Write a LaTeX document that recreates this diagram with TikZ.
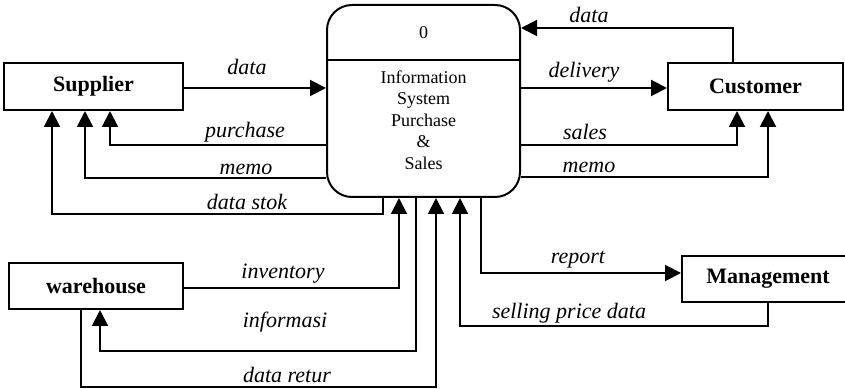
\documentclass[tikz,border=0pt]{standalone}
\usepackage{fontspec}
\setmainfont{Liberation Serif}
\usetikzlibrary{arrows.meta,calc,positioning}

\begin{document}
\begin{tikzpicture}[
		x=0.5pt, y=-0.5pt,
		entity/.style={draw, line width=1pt, inner sep=0pt, minimum height=23.5pt, font=\fontsize{11}{13}\selectfont\bfseries},
		process/.style={draw, line width=1pt, rounded corners=12.5pt, minimum width=96.5pt, minimum height=96pt, inner sep=0pt},
		flow/.style={-{Triangle[length=8pt,width=8pt]}, line width=1pt},
		link/.style={line width=0.8pt},
		lbl/.style={anchor=base, inner sep=0pt, font=\fontsize{11}{13}\selectfont\itshape},
		ptext/.style={inner sep=0pt, align=center, font=\fontsize{9}{10.75}\selectfont}
		]
	\useasboundingbox (0,0) rectangle (845,389);

	% --- Entitas dan proses ---
	\node[entity, minimum width=89.5pt] (sup) at (93.5,86.5) {Supplier};
	\node[entity, minimum width=87.5pt] (cus) at (755.5,86.5) {Customer};
	\node[entity, minimum width=87pt, minimum height=23pt] (war) at (96,286) {warehouse};
	\node[entity, minimum width=86pt, minimum height=23pt] (man) at (768,279) {Management};
	\node[process] (proc) at (423.5,101) {};
	\node[ptext] (num) at (423.5,33) {0};
	\node[ptext] (desc) at (423.5,120) {Information\\System\\Purchase\\\&\\Sales};
	\draw[link] (proc.west |- 0,60) -- (proc.east |- 0,60);

	% --- Supplier ---
	\draw[flow] (sup.east |- 0,88) -- (proc.west |- 0,88);
	\draw[flow] (proc.west |- 0,145) -| (sup.south -| 110,0);
	\draw[flow] (proc.west |- 0,178) -| (sup.south -| 85,0);
	\draw[flow] (proc.south -| 383,0) -- (383,214) -| (sup.south -| 52,0);
	\node[lbl] (ldata) at (247,75) {data};
	\node[lbl] (lpurch) at (245,138) {purchase};
	\node[lbl] (lmemo) at (246,175) {memo};
	\node[lbl] (lstok) at (247,210) {data stok};

	% --- Customer ---
	\draw[flow] (proc.east |- 0,88) -- (cus.west |- 0,88);
	\draw[flow] (cus.north -| 733,0) |- (proc.east |- 0,28);
	\draw[flow] (proc.east |- 0,145) -| (cus.south -| 737,0);
	\draw[flow] (proc.east |- 0,177) -| (cus.south -| 768,0);
	\node[lbl] (lcdata) at (589,23) {data};
	\node[lbl] (ldeliv) at (584,78) {delivery};
	\node[lbl] (lsales) at (585,140) {sales};
	\node[lbl] (lcmemo) at (589,173) {memo};

	% --- Warehouse ---
	\draw[flow] (war.east |- 0,288) -| (proc.south -| 399,0);
	\draw[flow] (proc.south -| 416,0) -- (416,351) -| (war.south -| 100,0);
	\draw[flow] (war.south -| 81,0) -- (81,387) -| (proc.south -| 436,0);
	\node[lbl] (linv) at (283,279) {inventory};
	\node[lbl] (linfo) at (285,328) {informasi};
	\node[lbl] (lretur) at (287,382) {data retur};

	% --- Management ---
	\draw[flow] (proc.south -| 481,0) |- (man.west |- 0,273);
	\draw[flow] (man.south -| 768,0) -- (768,326) -| (proc.south -| 460,0);
	\node[lbl] (lrep) at (578,264) {report};
	\node[lbl] (lsell) at (569,319) {selling price data};

\end{tikzpicture}
\end{document}
